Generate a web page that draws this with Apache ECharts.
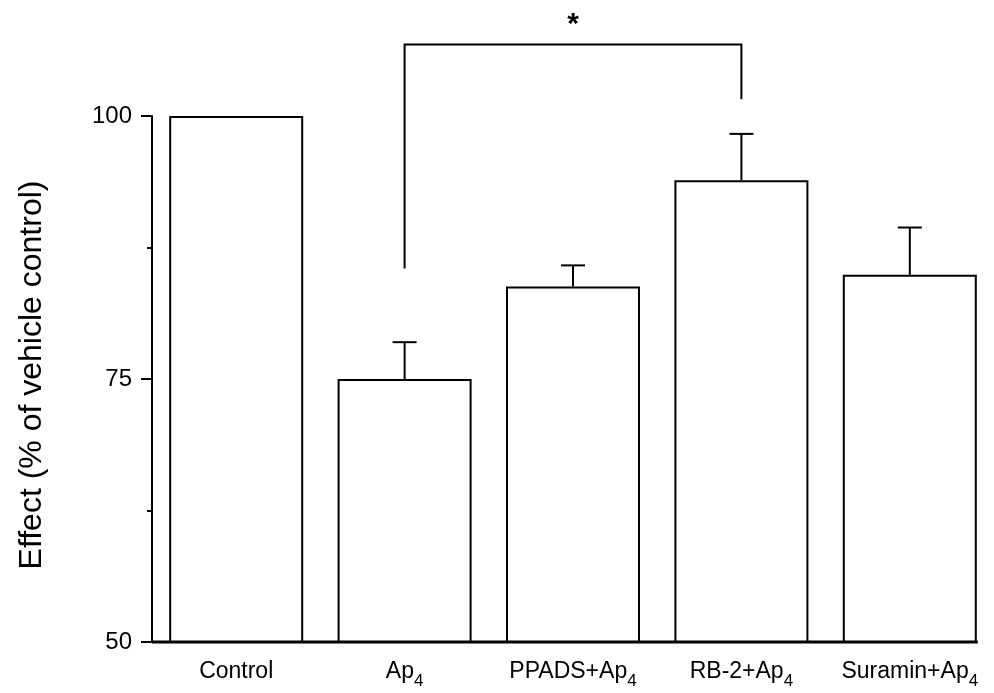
<!DOCTYPE html>
<html>
<head>
<meta charset="utf-8">
<script src="https://cdn.jsdelivr.net/npm/echarts@6/dist/echarts.min.js"></script>
<style>
    html, body { margin: 0; padding: 0; background: #fff; }
    #chart { width: 994px; height: 693px; }
</style>
</head>
<body>
<div id="chart"></div>
<script>
// group names, "_4" marks a subscript
const categories = ["Control", "Ap_4", "PPADS+Ap_4", "RB-2+Ap_4", "Suramin+Ap_4"];
const means = [100, 75, 83.8, 93.9, 84.9];
const sems = [0, 3.5, 2.0, 4.4, 4.5];
const yTicks = [50, 75, 100];

// significance bracket between Ap4 and RB-2+Ap4
const bracketPair = [1, 3];
const bracketLevels = [85.5, 106.8, 101.6];
const starLevel = 108.7;

const BAR_WIDTH = 134;
const FONT = "'Liberation Sans', Arial, sans-serif";

function labelText(name) {
    const parts = name.split("_");
    if (parts.length === 1) {
        return "{a|" + name + "}";
    }
    return "{a|" + parts[0] + "}{s|" + parts[1] + "}";
}

const chart = echarts.init(document.getElementById("chart"));

chart.setOption({
    animation: false,
    backgroundColor: "#fff",
    grid: {left: 152, right: -2, top: 116, bottom: 51, containLabel: false},
    xAxis: {
        type: "category",
        data: categories,
        axisLine: {show: false},
        axisTick: {show: false},
        axisLabel: {
            interval: 0,
            margin: 18,
            color: "#000",
            formatter: labelText,
            rich: {
                a: {fontFamily: FONT, fontSize: 23, color: "#000", lineHeight: 26, verticalAlign: "top"},
                s: {fontFamily: FONT, fontSize: 17, color: "#000", lineHeight: 17, padding: [13, 0, 0, 0], verticalAlign: "top"}
            }
        }
    },
    yAxis: {
        type: "value",
        min: yTicks[0],
        max: yTicks[yTicks.length - 1],
        interval: yTicks[1] - yTicks[0],
        name: "Effect (% of vehicle control)",
        nameLocation: "middle",
        nameGap: 104,
        nameTextStyle: {fontFamily: FONT, fontSize: 32, color: "#000", padding: [0, 0, 0, 8]},
        axisLine: {show: true, lineStyle: {color: "#000", width: 2}},
        axisTick: {show: true, length: 11, lineStyle: {color: "#000", width: 2}},
        minorTick: {show: true, splitNumber: 2, length: 5, lineStyle: {color: "#000", width: 2}},
        splitLine: {show: false},
        minorSplitLine: {show: false},
        axisLabel: {fontFamily: FONT, fontSize: 24, color: "#000", margin: 20}
    },
    series: [
        {
            type: "bar",
            data: means,
            barWidth: BAR_WIDTH,
            itemStyle: {color: "#fff", borderColor: "#000", borderWidth: 2},
            z: 2
        },
        {
            // error bars (mean + SEM)
            type: "custom",
            clip: false,
            z: 3,
            data: means.map(function (m, i) { return [i, m, sems[i]]; }),
            renderItem: function (params, api) {
                const i = api.value(0);
                const m = api.value(1);
                const e = api.value(2);
                if (!e) {
                    return null;
                }
                const p0 = api.coord([i, m]);
                const p1 = api.coord([i, m + e]);
                const style = {stroke: "#000", lineWidth: 2};
                return {
                    type: "group",
                    children: [
                        {type: "line", shape: {x1: p0[0], y1: p0[1], x2: p1[0], y2: p1[1]}, style: style},
                        {type: "line", shape: {x1: p1[0] - 12, y1: p1[1], x2: p1[0] + 12, y2: p1[1]}, style: style}
                    ]
                };
            }
        },
        {
            // baseline along the bottom of the bars
            type: "custom",
            clip: false,
            z: 4,
            data: [[0, yTicks[0]]],
            renderItem: function (params, api) {
                const first = api.coord([0, yTicks[0]]);
                const last = api.coord([categories.length - 1, yTicks[0]]);
                const band = api.size([1, 0])[0];
                return {
                    type: "line",
                    shape: {x1: first[0] - band / 2, y1: first[1], x2: last[0] + BAR_WIDTH / 2 + 1, y2: last[1]},
                    style: {stroke: "#000", lineWidth: 3}
                };
            }
        },
        {
            // significance bracket and star
            type: "custom",
            clip: false,
            z: 3,
            data: [[bracketPair[0], bracketPair[1]]],
            renderItem: function (params, api) {
                const a = api.coord([bracketPair[0], bracketLevels[0]]);
                const top = api.coord([bracketPair[0], bracketLevels[1]]);
                const b = api.coord([bracketPair[1], bracketLevels[2]]);
                const star = api.coord([bracketPair[0], starLevel]);
                const style = {stroke: "#000", lineWidth: 2, fill: null};
                return {
                    type: "group",
                    children: [
                        {
                            type: "polyline",
                            shape: {points: [[a[0], a[1]], [a[0], top[1]], [b[0], top[1]], [b[0], b[1]]]},
                            style: style
                        },
                        {
                            type: "text",
                            x: (a[0] + b[0]) / 2,
                            y: star[1],
                            style: {
                                text: "*",
                                fontFamily: FONT,
                                fontSize: 30,
                                fontWeight: "bold",
                                fill: "#000",
                                align: "center",
                                verticalAlign: "middle"
                            }
                        }
                    ]
                };
            }
        }
    ]
});
</script>
</body>
</html>
